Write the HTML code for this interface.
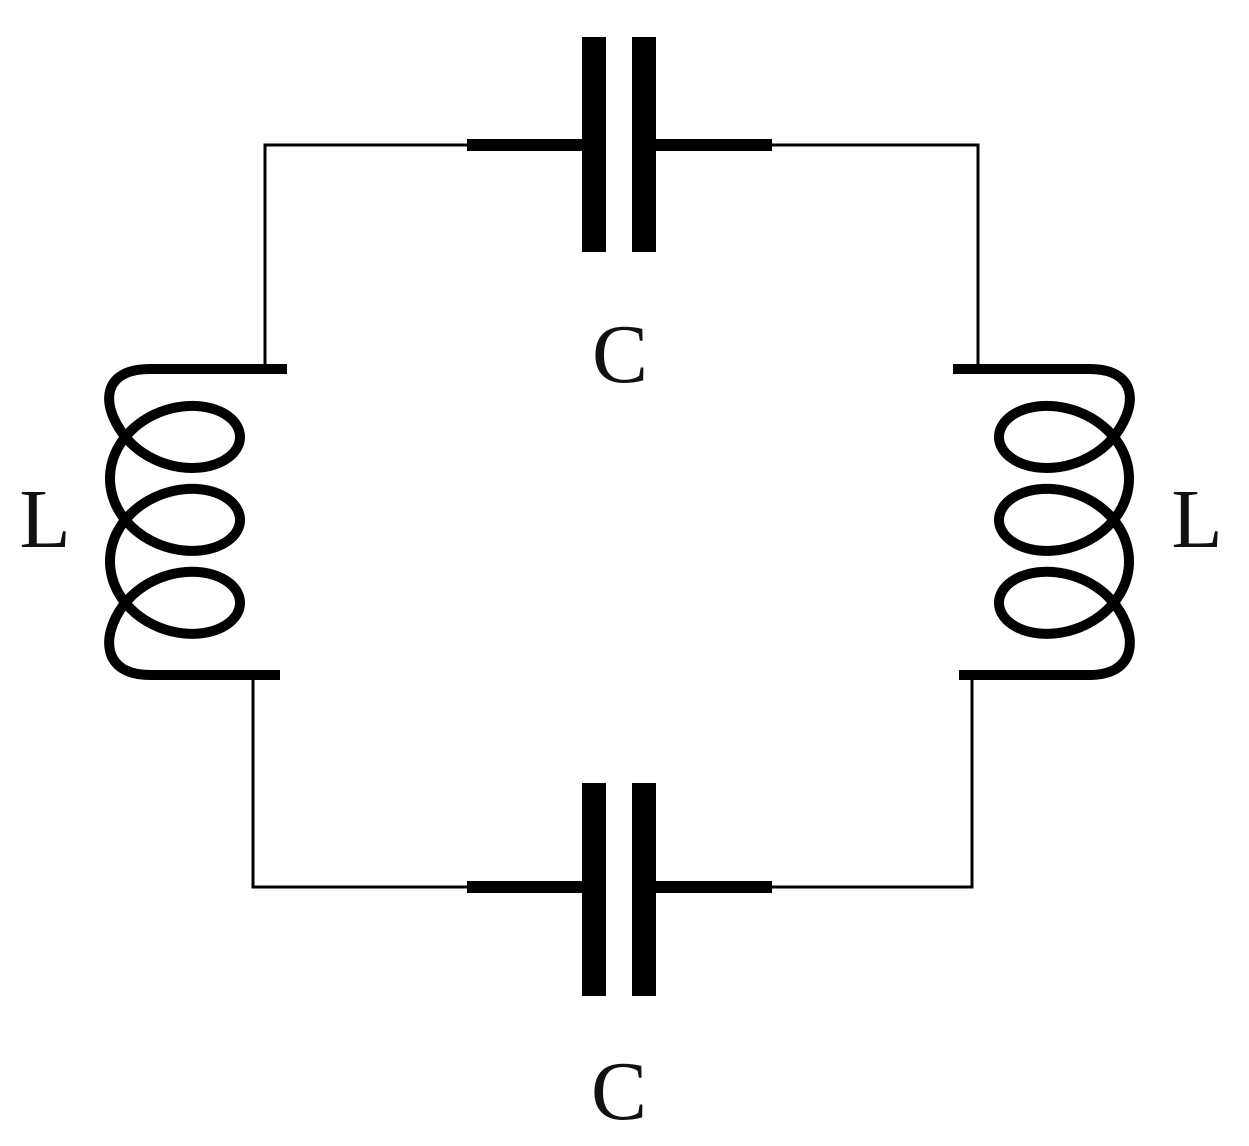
<!DOCTYPE html>
<html><head><meta charset="utf-8"><style>
html,body{margin:0;padding:0;background:#fff;}
svg{display:block;}
text{font-family:"Liberation Serif",serif;fill:#111;}
</style></head><body>
<svg width="1249" height="1146" viewBox="0 0 1249 1146" xmlns="http://www.w3.org/2000/svg">
<g stroke="#000" fill="none">
<polyline points="467,145 265,145 265,369" stroke-width="3"/>
<polyline points="772,145 978,145 978,369" stroke-width="3"/>
<polyline points="253,675 253,887 467,887" stroke-width="3"/>
<polyline points="972,675 972,887 772,887" stroke-width="3"/>
<line x1="467" y1="145" x2="584" y2="145" stroke-width="12"/>
<line x1="655" y1="145" x2="772" y2="145" stroke-width="12"/>
<line x1="467" y1="887" x2="584" y2="887" stroke-width="12"/>
<line x1="655" y1="887" x2="772" y2="887" stroke-width="12"/>
</g>
<g fill="#000">
<rect x="582" y="37" width="24" height="215"/>
<rect x="632" y="37" width="24" height="215"/>
<rect x="582" y="783" width="24" height="213"/>
<rect x="632" y="783" width="24" height="213"/>
</g>
<g stroke="#000" fill="none" stroke-width="10">
<line x1="150" y1="369" x2="287" y2="369"/>
<line x1="150" y1="675" x2="280" y2="675"/>
<line x1="953" y1="369" x2="1089" y2="369"/>
<line x1="959" y1="675" x2="1089" y2="675"/>
<path id="coilL" d=""/>
<path id="coilR" d="" transform="translate(1239,0) scale(-1,1)"/>
</g>
<text x="620" y="382" font-size="84" text-anchor="middle">C</text>
<text x="619" y="1119" font-size="84" text-anchor="middle">C</text>
<text x="45" y="547" font-size="84" text-anchor="middle">L</text>
<text x="1197" y="547" font-size="84" text-anchor="middle">L</text>
</svg>
<script>
(function(){
  var cx=175,A=65,c=13.2,d=50,y0=354;
  var t0=2*Math.PI-2.5,t1=6*Math.PI+2.5,n=700;
  var pts=[];
  for(var i=0;i<=n;i++){
    var t=t0+(t1-t0)*i/n;
    var x=cx+A*Math.cos(t);
    var y=y0+c*t-d*Math.sin(t);
    pts.push(x.toFixed(2)+","+y.toFixed(2));
  }
  var p0=pts[0].split(","),p1=pts[n].split(",");
  var x0=+p0[0],ya=+p0[1],x1=+p1[0],yb=+p1[1];
  var dd="M150,369 C102,369 "+(x0-22)+","+(ya-30)+" "+x0+","+ya+" L"+pts.join(" L")+
    " C"+(x1-22)+","+(yb+30)+" 102,675 150,675";
  document.getElementById("coilL").setAttribute("d",dd);
  document.getElementById("coilR").setAttribute("d",dd);
})();
</script>
</body></html>
